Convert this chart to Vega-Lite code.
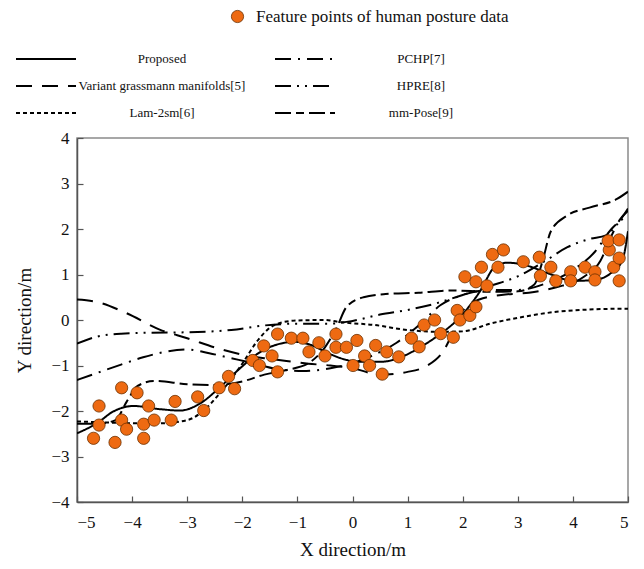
{
  "$schema": "https://vega.github.io/schema/vega-lite/v6.json",
  "width": 551,
  "height": 364,
  "autosize": "none",
  "padding": {"left": 77, "top": 138, "right": 16, "bottom": 67},
  "background": "white",
  "config": {
    "font": "Liberation Serif",
    "view": {"stroke": "#8a8a8a", "strokeWidth": 1.5},
    "axis": {
      "grid": false,
      "domainColor": "#555555",
      "domainWidth": 1.5,
      "tickColor": "#555555",
      "tickWidth": 1.2,
      "labelFont": "Liberation Serif",
      "labelFontSize": 17,
      "labelColor": "#111111",
      "titleFont": "Liberation Serif",
      "titleFontSize": 19,
      "titleFontWeight": "normal",
      "titleColor": "#111111"
    }
  },
  "datasets": {
    "pts": [
      {"x": -4.7, "y": -2.6}, {"x": -4.6, "y": -1.89}, {"x": -4.6, "y": -2.31}, {"x": -4.31, "y": -2.69},
      {"x": -4.19, "y": -1.49}, {"x": -4.19, "y": -2.2}, {"x": -4.1, "y": -2.4}, {"x": -3.91, "y": -1.6},
      {"x": -3.79, "y": -2.29}, {"x": -3.79, "y": -2.6}, {"x": -3.7, "y": -1.89}, {"x": -3.6, "y": -2.2},
      {"x": -3.29, "y": -2.2}, {"x": -3.22, "y": -1.79}, {"x": -2.81, "y": -1.69}, {"x": -2.7, "y": -1.99},
      {"x": -2.42, "y": -1.49}, {"x": -2.25, "y": -1.24}, {"x": -2.14, "y": -1.51}, {"x": -1.81, "y": -0.89},
      {"x": -1.69, "y": -1.0}, {"x": -1.61, "y": -0.57}, {"x": -1.46, "y": -0.79}, {"x": -1.36, "y": -1.14},
      {"x": -1.36, "y": -0.31}, {"x": -1.11, "y": -0.4}, {"x": -0.9, "y": -0.4}, {"x": -0.79, "y": -0.7},
      {"x": -0.61, "y": -0.5}, {"x": -0.5, "y": -0.79}, {"x": -0.3, "y": -0.31}, {"x": -0.3, "y": -0.6},
      {"x": -0.11, "y": -0.6}, {"x": 0.08, "y": -0.45}, {"x": 0.01, "y": -1.0}, {"x": 0.22, "y": -0.79},
      {"x": 0.31, "y": -1.0}, {"x": 0.42, "y": -0.56}, {"x": 0.54, "y": -1.19}, {"x": 0.62, "y": -0.7},
      {"x": 0.84, "y": -0.81}, {"x": 1.07, "y": -0.4}, {"x": 1.21, "y": -0.59}, {"x": 1.3, "y": -0.11},
      {"x": 1.49, "y": 0.0}, {"x": 1.6, "y": -0.3}, {"x": 1.83, "y": -0.38}, {"x": 1.9, "y": 0.21},
      {"x": 1.95, "y": 0.0}, {"x": 2.13, "y": 0.1}, {"x": 2.24, "y": 0.29}, {"x": 2.04, "y": 0.95},
      {"x": 2.24, "y": 0.84}, {"x": 2.44, "y": 0.75}, {"x": 2.34, "y": 1.16}, {"x": 2.64, "y": 1.16},
      {"x": 2.54, "y": 1.44}, {"x": 2.74, "y": 1.54}, {"x": 3.1, "y": 1.28}, {"x": 3.39, "y": 1.38},
      {"x": 3.6, "y": 1.16}, {"x": 3.41, "y": 0.97}, {"x": 3.69, "y": 0.86}, {"x": 3.96, "y": 1.06},
      {"x": 3.96, "y": 0.86}, {"x": 4.22, "y": 1.16}, {"x": 4.4, "y": 1.06}, {"x": 4.4, "y": 0.88},
      {"x": 4.74, "y": 1.16}, {"x": 4.84, "y": 1.36}, {"x": 4.66, "y": 1.54}, {"x": 4.64, "y": 1.74},
      {"x": 4.84, "y": 1.76}, {"x": 4.84, "y": 0.86}
    ],
    "lines": [
      {"m": "Proposed", "x": -5, "y": -2.49}, {"m": "Proposed", "x": -4.64, "y": -2.27}, {"m": "Proposed", "x": -4.34, "y": -2.01},
      {"m": "Proposed", "x": -3.98, "y": -1.89}, {"m": "Proposed", "x": -3.49, "y": -1.96}, {"m": "Proposed", "x": -3.13, "y": -1.99},
      {"m": "Proposed", "x": -2.76, "y": -1.83}, {"m": "Proposed", "x": -2.4, "y": -1.47}, {"m": "Proposed", "x": -2.04, "y": -1.06},
      {"m": "Proposed", "x": -1.67, "y": -0.7}, {"m": "Proposed", "x": -1.31, "y": -0.52}, {"m": "Proposed", "x": -1.05, "y": -0.48},
      {"m": "Proposed", "x": -0.75, "y": -0.55}, {"m": "Proposed", "x": -0.46, "y": -0.72}, {"m": "Proposed", "x": -0.1, "y": -0.88},
      {"m": "Proposed", "x": 0.15, "y": -0.92}, {"m": "Proposed", "x": 0.51, "y": -0.92}, {"m": "Proposed", "x": 0.87, "y": -0.82},
      {"m": "Proposed", "x": 1.24, "y": -0.59}, {"m": "Proposed", "x": 1.6, "y": -0.3}, {"m": "Proposed", "x": 1.9, "y": 0.0},
      {"m": "Proposed", "x": 2.33, "y": 0.66}, {"m": "Proposed", "x": 2.57, "y": 1.15}, {"m": "Proposed", "x": 2.81, "y": 1.26},
      {"m": "Proposed", "x": 3.18, "y": 1.19}, {"m": "Proposed", "x": 3.54, "y": 1.03}, {"m": "Proposed", "x": 4.02, "y": 0.86},
      {"m": "Proposed", "x": 4.39, "y": 0.88}, {"m": "Proposed", "x": 4.69, "y": 1.03}, {"m": "Proposed", "x": 4.9, "y": 1.32},
      {"m": "Proposed", "x": 5, "y": 1.95},

      {"m": "Variant grassmann manifolds[5]", "x": -5, "y": 0.45}, {"m": "Variant grassmann manifolds[5]", "x": -4.65, "y": 0.4},
      {"m": "Variant grassmann manifolds[5]", "x": -4.1, "y": 0.15}, {"m": "Variant grassmann manifolds[5]", "x": -3.5, "y": -0.21},
      {"m": "Variant grassmann manifolds[5]", "x": -3.0, "y": -0.4}, {"m": "Variant grassmann manifolds[5]", "x": -2.4, "y": -0.64},
      {"m": "Variant grassmann manifolds[5]", "x": -2.0, "y": -0.76}, {"m": "Variant grassmann manifolds[5]", "x": -1.6, "y": -0.84},
      {"m": "Variant grassmann manifolds[5]", "x": -1.2, "y": -0.9}, {"m": "Variant grassmann manifolds[5]", "x": -0.8, "y": -0.96},
      {"m": "Variant grassmann manifolds[5]", "x": -0.4, "y": -1.0}, {"m": "Variant grassmann manifolds[5]", "x": 0.0, "y": -1.06},
      {"m": "Variant grassmann manifolds[5]", "x": 0.5, "y": -1.2}, {"m": "Variant grassmann manifolds[5]", "x": 1.0, "y": -1.14},
      {"m": "Variant grassmann manifolds[5]", "x": 1.36, "y": -1.0}, {"m": "Variant grassmann manifolds[5]", "x": 1.66, "y": -0.66},
      {"m": "Variant grassmann manifolds[5]", "x": 1.85, "y": -0.2}, {"m": "Variant grassmann manifolds[5]", "x": 2.0, "y": 0.2},
      {"m": "Variant grassmann manifolds[5]", "x": 2.3, "y": 0.45}, {"m": "Variant grassmann manifolds[5]", "x": 2.7, "y": 0.55},
      {"m": "Variant grassmann manifolds[5]", "x": 3.2, "y": 0.6}, {"m": "Variant grassmann manifolds[5]", "x": 3.7, "y": 0.72},
      {"m": "Variant grassmann manifolds[5]", "x": 4.2, "y": 0.95}, {"m": "Variant grassmann manifolds[5]", "x": 4.5, "y": 1.3},
      {"m": "Variant grassmann manifolds[5]", "x": 4.7, "y": 1.85}, {"m": "Variant grassmann manifolds[5]", "x": 4.85, "y": 2.2},
      {"m": "Variant grassmann manifolds[5]", "x": 5, "y": 2.4},

      {"m": "Lam-2sm[6]", "x": -5, "y": -2.23}, {"m": "Lam-2sm[6]", "x": -4.5, "y": -2.25}, {"m": "Lam-2sm[6]", "x": -4.0, "y": -2.27},
      {"m": "Lam-2sm[6]", "x": -3.5, "y": -2.27}, {"m": "Lam-2sm[6]", "x": -3.0, "y": -2.2}, {"m": "Lam-2sm[6]", "x": -2.76, "y": -2.05},
      {"m": "Lam-2sm[6]", "x": -2.4, "y": -1.6}, {"m": "Lam-2sm[6]", "x": -2.04, "y": -1.03}, {"m": "Lam-2sm[6]", "x": -1.7, "y": -0.42},
      {"m": "Lam-2sm[6]", "x": -1.5, "y": -0.17}, {"m": "Lam-2sm[6]", "x": -1.3, "y": -0.06}, {"m": "Lam-2sm[6]", "x": -1.0, "y": -0.01},
      {"m": "Lam-2sm[6]", "x": -0.5, "y": 0.0}, {"m": "Lam-2sm[6]", "x": -0.2, "y": -0.05}, {"m": "Lam-2sm[6]", "x": 0.4, "y": -0.11},
      {"m": "Lam-2sm[6]", "x": 1.0, "y": -0.22}, {"m": "Lam-2sm[6]", "x": 1.6, "y": -0.26}, {"m": "Lam-2sm[6]", "x": 2.0, "y": -0.25},
      {"m": "Lam-2sm[6]", "x": 2.5, "y": -0.08}, {"m": "Lam-2sm[6]", "x": 3.1, "y": 0.07}, {"m": "Lam-2sm[6]", "x": 3.7, "y": 0.18},
      {"m": "Lam-2sm[6]", "x": 4.3, "y": 0.23}, {"m": "Lam-2sm[6]", "x": 5, "y": 0.25},

      {"m": "PCHP[7]", "x": -5, "y": -1.32}, {"m": "PCHP[7]", "x": -4.65, "y": -1.17}, {"m": "PCHP[7]", "x": -4.2, "y": -0.98},
      {"m": "PCHP[7]", "x": -3.8, "y": -0.82}, {"m": "PCHP[7]", "x": -3.4, "y": -0.7}, {"m": "PCHP[7]", "x": -3.0, "y": -0.65},
      {"m": "PCHP[7]", "x": -2.6, "y": -0.73}, {"m": "PCHP[7]", "x": -2.2, "y": -0.84}, {"m": "PCHP[7]", "x": -1.8, "y": -0.95},
      {"m": "PCHP[7]", "x": -1.4, "y": -1.07}, {"m": "PCHP[7]", "x": -0.9, "y": -1.12}, {"m": "PCHP[7]", "x": -0.4, "y": -1.06},
      {"m": "PCHP[7]", "x": 0.0, "y": -0.95}, {"m": "PCHP[7]", "x": 0.4, "y": -0.76}, {"m": "PCHP[7]", "x": 0.8, "y": -0.5},
      {"m": "PCHP[7]", "x": 1.2, "y": -0.12}, {"m": "PCHP[7]", "x": 1.6, "y": 0.33}, {"m": "PCHP[7]", "x": 2.0, "y": 0.55},
      {"m": "PCHP[7]", "x": 2.5, "y": 0.66}, {"m": "PCHP[7]", "x": 3.0, "y": 0.66}, {"m": "PCHP[7]", "x": 3.5, "y": 0.8},
      {"m": "PCHP[7]", "x": 4.0, "y": 1.1}, {"m": "PCHP[7]", "x": 4.4, "y": 1.5}, {"m": "PCHP[7]", "x": 4.7, "y": 2.0},
      {"m": "PCHP[7]", "x": 5, "y": 2.3},

      {"m": "HPRE[8]", "x": -5, "y": -0.52}, {"m": "HPRE[8]", "x": -4.65, "y": -0.37}, {"m": "HPRE[8]", "x": -4.2, "y": -0.3},
      {"m": "HPRE[8]", "x": -3.7, "y": -0.28}, {"m": "HPRE[8]", "x": -3.0, "y": -0.27}, {"m": "HPRE[8]", "x": -2.2, "y": -0.22},
      {"m": "HPRE[8]", "x": -1.6, "y": -0.12}, {"m": "HPRE[8]", "x": -1.0, "y": -0.08}, {"m": "HPRE[8]", "x": -0.4, "y": -0.08},
      {"m": "HPRE[8]", "x": 0.0, "y": -0.02}, {"m": "HPRE[8]", "x": 0.5, "y": 0.12}, {"m": "HPRE[8]", "x": 1.0, "y": 0.22},
      {"m": "HPRE[8]", "x": 1.5, "y": 0.36}, {"m": "HPRE[8]", "x": 2.0, "y": 0.55}, {"m": "HPRE[8]", "x": 2.5, "y": 0.75},
      {"m": "HPRE[8]", "x": 3.0, "y": 0.96}, {"m": "HPRE[8]", "x": 3.5, "y": 1.3}, {"m": "HPRE[8]", "x": 3.9, "y": 1.6},
      {"m": "HPRE[8]", "x": 4.3, "y": 1.78}, {"m": "HPRE[8]", "x": 4.6, "y": 1.86}, {"m": "HPRE[8]", "x": 4.8, "y": 2.1},
      {"m": "HPRE[8]", "x": 5, "y": 2.45},

      {"m": "mm-Pose[9]", "x": -5, "y": -2.28}, {"m": "mm-Pose[9]", "x": -4.6, "y": -2.28}, {"m": "mm-Pose[9]", "x": -4.3, "y": -2.2},
      {"m": "mm-Pose[9]", "x": -4.1, "y": -1.8}, {"m": "mm-Pose[9]", "x": -3.9, "y": -1.45}, {"m": "mm-Pose[9]", "x": -3.6, "y": -1.34},
      {"m": "mm-Pose[9]", "x": -3.0, "y": -1.41}, {"m": "mm-Pose[9]", "x": -2.5, "y": -1.43}, {"m": "mm-Pose[9]", "x": -2.0, "y": -1.35},
      {"m": "mm-Pose[9]", "x": -1.6, "y": -1.2}, {"m": "mm-Pose[9]", "x": -1.2, "y": -1.1}, {"m": "mm-Pose[9]", "x": -0.8, "y": -0.95},
      {"m": "mm-Pose[9]", "x": -0.5, "y": -0.6}, {"m": "mm-Pose[9]", "x": -0.3, "y": -0.2}, {"m": "mm-Pose[9]", "x": -0.1, "y": 0.3},
      {"m": "mm-Pose[9]", "x": 0.2, "y": 0.5}, {"m": "mm-Pose[9]", "x": 0.6, "y": 0.57}, {"m": "mm-Pose[9]", "x": 1.2, "y": 0.6},
      {"m": "mm-Pose[9]", "x": 1.8, "y": 0.65}, {"m": "mm-Pose[9]", "x": 2.5, "y": 0.62}, {"m": "mm-Pose[9]", "x": 3.0, "y": 0.63},
      {"m": "mm-Pose[9]", "x": 3.3, "y": 0.78}, {"m": "mm-Pose[9]", "x": 3.45, "y": 1.3}, {"m": "mm-Pose[9]", "x": 3.6, "y": 1.95},
      {"m": "mm-Pose[9]", "x": 3.9, "y": 2.3}, {"m": "mm-Pose[9]", "x": 4.3, "y": 2.47}, {"m": "mm-Pose[9]", "x": 4.8, "y": 2.66},
      {"m": "mm-Pose[9]", "x": 5, "y": 2.82}
    ]
  },
  "layer": [
    {
      "data": {"name": "lines"},
      "mark": {"type": "line", "color": "black", "strokeWidth": 2, "interpolate": "monotone", "clip": true},
      "encoding": {
        "x": {
          "field": "x", "type": "quantitative",
          "scale": {"domain": [-5, 5], "nice": false},
          "axis": {"values": [-5, -4, -3, -2, -1, 0, 1, 2, 3, 4, 5], "tickSize": -6, "labelPadding": 18, "title": "X direction/m", "titlePadding": 10}
        },
        "y": {
          "field": "y", "type": "quantitative",
          "scale": {"domain": [-4, 4], "nice": false},
          "axis": {"values": [-4, -3.5, -3, -2.5, -2, -1.5, -1, -0.5, 0, 0.5, 1, 1.5, 2, 2.5, 3, 3.5, 4], "labelExpr": "datum.value % 1 == 0 ? datum.label : ''", "tickSize": -6, "labelPadding": 14, "title": "Y direction/m", "titlePadding": 16}
        },
        "strokeDash": {
          "field": "m", "type": "nominal",
          "scale": {
            "domain": ["Proposed", "Variant grassmann manifolds[5]", "Lam-2sm[6]", "PCHP[7]", "HPRE[8]", "mm-Pose[9]"],
            "range": [[1, 0], [16, 10], [4, 3], [16, 7, 2, 7], [16, 6, 2, 6, 2, 6], [16, 5, 8, 5]]
          },
          "legend": {
            "title": null,
            "orient": "none",
            "legendX": -42,
            "legendY": -90,
            "columns": 2,
            "columnPadding": 25,
            "rowPadding": 9,
            "symbolType": "M-3,0H3",
            "symbolSize": 400,
            "symbolStrokeWidth": 2,
            "symbolStrokeColor": "black",
            "labelAlign": "center",
            "labelOffset": 105,
            "labelFont": "Liberation Serif",
            "labelFontSize": 13,
            "labelColor": "#111111",
            "labelLimit": 300
          }
        }
      }
    },
    {
      "data": {"name": "pts"},
      "transform": [{"calculate": "'Feature points of human posture data'", "as": "k"}],
      "mark": {"type": "point", "filled": true, "size": 150, "stroke": "#6b3000", "strokeWidth": 0.8, "opacity": 1},
      "encoding": {
        "x": {"field": "x", "type": "quantitative"},
        "y": {"field": "y", "type": "quantitative"},
        "fill": {
          "field": "k", "type": "nominal",
          "scale": {"range": ["#EE6A12"]},
          "legend": {
            "title": null,
            "orient": "none",
            "legendX": 152,
            "legendY": -130,
            "symbolType": "circle",
            "symbolSize": 150,
            "symbolStrokeColor": "#6b3000",
            "symbolStrokeWidth": 0.8,
            "labelFont": "Liberation Serif",
            "labelFontSize": 17,
            "labelOffset": 10,
            "labelColor": "#111111",
            "labelLimit": 400
          }
        }
      }
    }
  ]
}
